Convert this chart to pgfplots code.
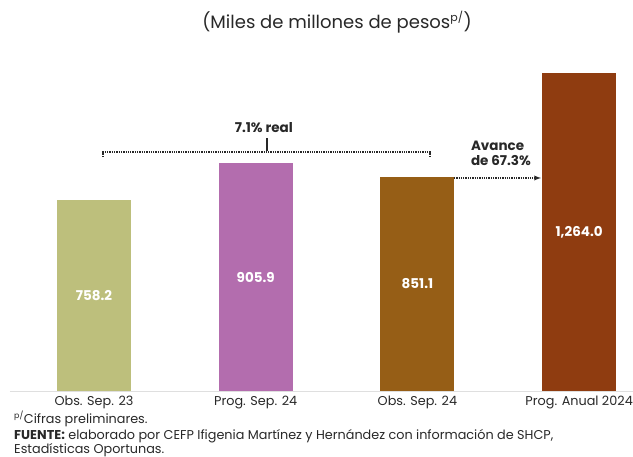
\documentclass[border=0pt]{standalone}
\usepackage{fontspec}
\setmainfont{Poppins}
\usepackage{pgfplots}
\pgfplotsset{compat=1.18}
\definecolor{bolive}{RGB}{189,191,124}
\definecolor{bpurple}{RGB}{179,109,174}
\definecolor{bochre}{RGB}{150,94,22}
\definecolor{brust}{RGB}{143,60,16}
\definecolor{ink}{RGB}{40,40,40}
\begin{document}
\begin{tikzpicture}
\path[use as bounding box] (0,0) rectangle (633pt,457pt);
\begin{axis}[
  at={(10pt,66pt)}, anchor=south west,
  scale only axis, width=623pt, height=331pt,
  xmin=-0.5195, xmax=3.333, ymin=0, ymax=1315.6,
  axis x line=bottom, axis y line=none,
  x axis line style={-, draw=gray!25, line width=0.8pt},
  xtick={0,1,2,3}, major tick length=0pt,
  xticklabels={Obs. Sep. 23, Prog. Sep. 24, Obs. Sep. 24, Prog. Anual 2024},
  ticklabel style={font=\fontsize{12.8}{15}\selectfont, text=ink},
  xticklabel style={yshift=-2pt},
  ybar, bar width=74pt, bar shift=0pt,
  clip=false,
]
\addplot[fill=bolive, draw=none] coordinates {(0,758.2)};
\addplot[fill=bpurple, draw=none] coordinates {(1,905.9)};
\addplot[fill=bochre, draw=none] coordinates {(2,851.1)};
\addplot[fill=brust, draw=none] coordinates {(3,1264.0)};
\tikzset{vlab/.style={font=\fontsize{13.5}{15}\selectfont\bfseries, text=white}}
\node[vlab] at (axis cs:0,379.1) {758.2};
\node[vlab] at (axis cs:1,452.95) {905.9};
\node[vlab] at (axis cs:2,425.55) {851.1};
\node[vlab] at (axis cs:3,632.0) {1,264.0};
% llave 7.1% real
\draw[densely dotted, line width=1.3pt, ink] (axis cs:0.0557,930) -- (axis cs:0.0557,950) -- (axis cs:2.078,950) -- (axis cs:2.078,930);
\draw[line width=1.2pt, ink] (axis cs:1.07,1005) -- (axis cs:1.07,955);
\node[font=\fontsize{13.5}{15}\selectfont\bfseries, text=ink] at (axis cs:1.05,1048) {7.1\% real};
% flecha avance
\draw[densely dotted, line width=1.3pt, ink, -latex] (axis cs:2.226,846.6) -- (axis cs:2.764,846.6);
\node[font=\fontsize{13.5}{15}\selectfont\bfseries, text=ink, anchor=west, align=left, inner sep=0pt] at (axis cs:2.33,944) {Avance\\de 67.3\%};
\end{axis}
\node[font=\fontsize{18}{20}\selectfont, text=ink] at (337pt,435pt) {(Miles de millones de pesos\textsuperscript{\fontsize{11}{12}\selectfont p/})};
\tikzset{foot/.style={font=\fontsize{12.8}{14}\selectfont, text=ink, anchor=west, inner sep=0pt}}
\node[foot] at (14pt,38pt) {\textsuperscript{\fontsize{8}{9}\selectfont p/}Cifras preliminares.};
\node[foot] at (14pt,21pt) {\textbf{FUENTE:} elaborado por CEFP Ifigenia Martínez y Hernández con información de SHCP,};
\node[foot] at (14pt,7pt) {Estadísticas Oportunas.};
\end{tikzpicture}
\end{document}
